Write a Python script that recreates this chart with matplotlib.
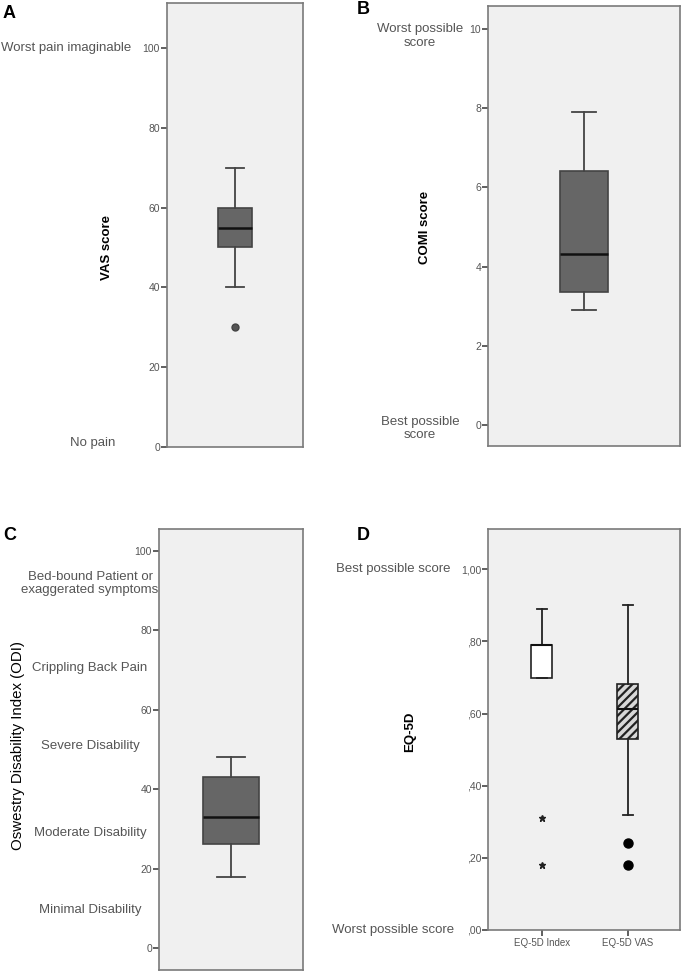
import matplotlib
matplotlib.use("Agg")
import matplotlib.pyplot as plt
from matplotlib.ticker import FuncFormatter

# values
vas_stats = [40, 50, 55, 60, 70]          # whislo, q1, median, q3, whishi
vas_fliers = [30]
comi_stats = [2.9, 3.37, 4.31, 6.42, 7.91]
odi_stats = [18, 26.2, 33.1, 43.0, 48.1]
eq_labels = ["EQ-5D Index", "EQ-5D VAS"]
eq_stats = [[0.70, 0.70, 0.79, 0.79, 0.89],
            [0.32, 0.53, 0.613, 0.682, 0.90]]
eq_fliers = [[0.31, 0.18], [0.24, 0.18]]

odi_bands = [91.8, 70.5, 51, 29, 9.6]
odi_band_labels = ["Bed-bound Patient or\nexaggerated symptoms", "Crippling Back Pain",
                   "Severe Disability", "Moderate Disability", "Minimal Disability"]

face = "#f0f0f0"
frame = "#7a7a7a"
boxgray = "#666666"
txtgray = "#555555"
W, H = 685, 974

plt.rcParams['font.family'] = ['Liberation Sans', 'DejaVu Sans']
plt.rcParams['hatch.linewidth'] = 1.6

fig = plt.figure(figsize=(6.85, 9.74), dpi=100)


def px(x, y):
    # pixel position (from top-left) -> figure fraction
    return x / W, 1 - y / H


def make_stat(s, fliers=()):
    return dict(whislo=s[0], q1=s[1], med=s[2], q3=s[3], whishi=s[4], fliers=list(fliers))


def style_ax(ax):
    ax.set_facecolor(face)
    for sp in ax.spines.values():
        sp.set_color(frame)
        sp.set_linewidth(1.2)
    ax.tick_params(axis='y', direction='out', length=4, width=1.2, color="#444444",
                   labelsize=7.5, labelcolor=txtgray, pad=1)


def one_box(ax, stats, width, fliers=(), fcolor=boxgray):
    ax.bxp([make_stat(stats, fliers)], positions=[1], widths=width, patch_artist=True,
           showfliers=True,
           boxprops=dict(facecolor=fcolor, edgecolor="#444444", linewidth=1.2),
           medianprops=dict(color="#111111", linewidth=1.8),
           whiskerprops=dict(color="#444444", linewidth=1.3),
           capprops=dict(color="#444444", linewidth=1.3),
           capwidths=width * 0.5,
           flierprops=dict(marker='o', markerfacecolor="#555555", markeredgecolor="#444444",
                           markersize=5))
    ax.set_xlim(0.5, 1.5)
    ax.set_xticks([])


def side_label(x, y, s, ha='center', size=9.5, ls=1.15):
    fig.text(*px(x, y), s, ha=ha, va='center', fontsize=size, color=txtgray,
             linespacing=ls)


def ylab(x, y, s, size=9.5, bold=True):
    fig.text(*px(x, y), s, rotation=90, ha='center', va='center', fontsize=size,
             fontweight='bold' if bold else 'normal')


# ---- A: VAS
axA = fig.add_axes([0.2438, 0.5411, 0.1985, 0.4559])
style_ax(axA)
one_box(axA, vas_stats, 0.257, vas_fliers)
axA.set_ylim(0, 111.3)
axA.set_yticks([0, 20, 40, 60, 80, 100])
side_label(66, 48, "Worst pain imaginable")
side_label(93, 443, "No pain")
ylab(107, 248, "VAS score")
fig.text(*px(3, 13), "A", ha='left', va='center', fontsize=13, fontweight='bold')

# ---- B: COMI
axB = fig.add_axes([0.7124, 0.5421, 0.2803, 0.4517])
style_ax(axB)
one_box(axB, comi_stats, 0.245)
axB.set_ylim(-0.53, 10.58)
axB.set_yticks([0, 2, 4, 6, 8, 10])
side_label(420, 36, "Worst possible\nscore")
side_label(420, 428.5, "Best possible\nscore")
ylab(425, 227, "COMI score")
fig.text(*px(357, 10), "B", ha='left', va='center', fontsize=13, fontweight='bold')

# ---- C: ODI
axC = fig.add_axes([0.2321, 0.0041, 0.2102, 0.4528])
style_ax(axC)
one_box(axC, odi_stats, 0.39)
axC.set_ylim(-5.5, 105.5)
axC.set_yticks([0, 20, 40, 60, 80, 100])
for yv, lab in zip(odi_bands, odi_band_labels):
    # label x centre in pixels, y in data units
    fig.text(90 / W, axC.transData.transform((1, yv))[1] / (H), lab,
             ha='center', va='center', fontsize=9.5, color=txtgray, linespacing=1.05)
ylab(18, 745, "Oswestry Disability Index (ODI)", size=10.8, bold=False)
fig.text(*px(3, 535), "C", ha='left', va='center', fontsize=13, fontweight='bold')

# ---- D: EQ-5D
axD = fig.add_axes([0.7124, 0.0452, 0.2803, 0.4117])
style_ax(axD)
stats = [make_stat(s) for s in eq_stats]
bp = axD.bxp(stats, positions=[1, 2], widths=0.244, patch_artist=True, showfliers=False,
             boxprops=dict(edgecolor="#222222", linewidth=1.2),
             medianprops=dict(color="#111111", linewidth=1.5),
             whiskerprops=dict(color="#222222", linewidth=1.3),
             capprops=dict(color="#222222", linewidth=1.3),
             capwidths=0.122)
bp['boxes'][0].set_facecolor("white")
bp['boxes'][1].set_facecolor("#d8d8d8")
bp['boxes'][1].set_hatch("////")
axD.plot([1] * len(eq_fliers[0]), eq_fliers[0], linestyle='none', marker='*',
         color="#222222", markersize=5)
axD.plot([2] * len(eq_fliers[1]), eq_fliers[1], linestyle='none', marker='o',
         color="black", markersize=6.5)
axD.set_xlim(0.373, 2.605)
axD.set_ylim(0, 1.112)
axD.set_yticks([0, 0.2, 0.4, 0.6, 0.8, 1.0])
axD.yaxis.set_major_formatter(FuncFormatter(
    lambda v, p: ("%.2f" % v).replace(".", ",").lstrip("0") if v < 1 else ("%.2f" % v).replace(".", ",")))
axD.set_xticks([1, 2])
axD.set_xticklabels(eq_labels)
axD.tick_params(axis='x', direction='out', length=4, width=1.2, color="#444444",
                labelsize=7, labelcolor=txtgray, pad=2)
side_label(450, 569, "Best possible score", ha='right')
side_label(454, 930, "Worst possible score", ha='right')
ylab(410, 732, "EQ-5D")
fig.text(*px(357, 535), "D", ha='left', va='center', fontsize=13, fontweight='bold')

fig.savefig("out.png", dpi=100, facecolor="white")
